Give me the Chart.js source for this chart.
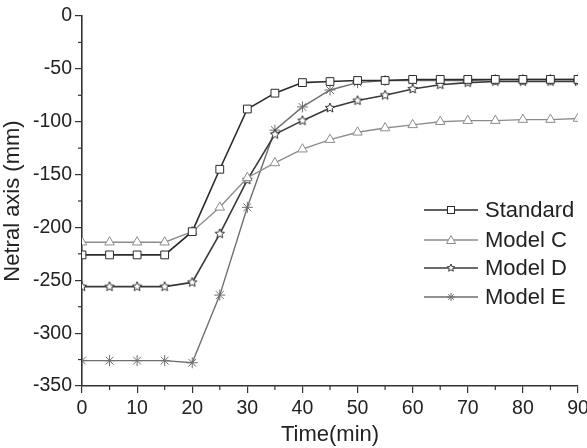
<!DOCTYPE html>
<html>
<head>
<meta charset="utf-8">
<script src="https://cdn.jsdelivr.net/npm/chart.js@4/dist/chart.umd.min.js"></script>
<style>
  html, body { margin: 0; padding: 0; background: #fff; }
  #wrap { width: 587px; height: 448px; }
</style>
</head>
<body>
<div id="wrap"><canvas id="neutralChart" width="587" height="448"></canvas></div>
<script>
const times = [0, 5, 10, 15, 20, 25, 30, 35, 40, 45, 50, 55, 60, 65, 70, 75, 80, 85, 90];
const standard = [-226, -226, -226, -226, -204, -145, -88, -73, -63, -62, -61, -61, -60, -60, -60, -60, -60, -60, -60];
const modelC = [-214, -214, -214, -214, -204, -181, -153, -139, -126, -117, -110, -106, -103, -100, -99, -99, -98, -98, -97];
const modelD = [-256, -256, -256, -256, -252, -206, -155, -112, -99, -87, -80, -75, -69, -65, -63, -62, -62, -62, -62];
const modelE = [-326, -326, -326, -326, -328, -264, -181, -108, -86, -70, -63, -61, -61, -61, -61, -60, -60, -60, -60];
const seriesNames = ["Standard", "Model C", "Model D", "Model E"];

const FONT = "'Liberation Sans', Arial, sans-serif";

// 5 point star marker, white filled
const makeStar = (size, color) => {
    const c = document.createElement("canvas");
    c.width = size; c.height = size;
    const g = c.getContext("2d");
    const cx = size / 2, cy = size / 2, ro = size / 2 - 1, ri = ro * 0.45;
    g.beginPath();
    for (let i = 0; i < 10; i++) {
        const r = i % 2 === 0 ? ro : ri;
        const a = -Math.PI / 2 + i * Math.PI / 5;
        const px = cx + r * Math.cos(a), py = cy + r * Math.sin(a);
        if (i === 0) g.moveTo(px, py); else g.lineTo(px, py);
    }
    g.closePath();
    g.fillStyle = "#fff";
    g.fill();
    g.lineWidth = 1;
    g.strokeStyle = color;
    g.stroke();
    return c;
};

const starBig = makeStar(12, "#333");

const styles = [
    { data: standard, color: "#2b2b2b", width: 1.6, point: "rect", radius: 5.5 },
    { data: modelC, color: "#8c8c8c", width: 1.4, point: "triangle", radius: 5.5 },
    { data: modelD, color: "#3a3a3a", width: 1.6, point: starBig, radius: 6 },
    { data: modelE, color: "#6e6e6e", width: 1.4, point: "star", radius: 5.5 },
];

// minor ticks + legend
const extras = {
    id: "extras",
    afterDraw(chart) {
        const ctx = chart.ctx;
        const xs = chart.scales.x, ys = chart.scales.y;
        const area = chart.chartArea;
        ctx.save();
        ctx.strokeStyle = "#333";
        ctx.lineWidth = 1.2;
        for (let v = 5; v < 90; v += 10) {
            const px = xs.getPixelForValue(v);
            ctx.beginPath();
            ctx.moveTo(px, area.bottom);
            ctx.lineTo(px, area.bottom + 4);
            ctx.stroke();
        }
        for (let v = -325; v < 0; v += 50) {
            const py = ys.getPixelForValue(v);
            ctx.beginPath();
            ctx.moveTo(area.left, py);
            ctx.lineTo(area.left - 4, py);
            ctx.stroke();
        }

        // legend
        const lx = 424;
        const rows = [210, 240, 268, 297];
        ctx.font = "22px " + FONT;
        ctx.textBaseline = "middle";
        styles.forEach((s, i) => {
            const y = rows[i];
            ctx.strokeStyle = s.color;
            ctx.lineWidth = s.width;
            ctx.beginPath();
            ctx.moveTo(lx, y);
            ctx.lineTo(lx + 54, y);
            ctx.stroke();
            const mx = lx + 27;
            ctx.fillStyle = "#fff";
            ctx.lineWidth = 1;
            if (s.point === "rect") {
                ctx.fillRect(mx - 3.5, y - 3.5, 7, 7);
                ctx.strokeRect(mx - 3.5, y - 3.5, 7, 7);
            } else if (s.point === "triangle") {
                ctx.beginPath();
                ctx.moveTo(mx, y - 4.5);
                ctx.lineTo(mx + 4.5, y + 3.5);
                ctx.lineTo(mx - 4.5, y + 3.5);
                ctx.closePath();
                ctx.fill(); ctx.stroke();
            } else if (s.point === "star") {
                ctx.beginPath();
                for (let k = 0; k < 4; k++) {
                    const a = k * Math.PI / 4;
                    ctx.moveTo(mx - 4 * Math.cos(a), y - 4 * Math.sin(a));
                    ctx.lineTo(mx + 4 * Math.cos(a), y + 4 * Math.sin(a));
                }
                ctx.stroke();
            } else {
                const st = makeStar(10, s.color);
                ctx.drawImage(st, mx - 5, y - 5);
            }
            ctx.fillStyle = "#222";
            ctx.fillText(seriesNames[i], lx + 61, y + 1);
        });
        ctx.restore();
    }
};

const ctx = document.getElementById("neutralChart");
new Chart(ctx, {
    type: "line",
    data: {
        labels: times,
        datasets: styles.map((s, i) => ({
            label: seriesNames[i],
            data: s.data,
            borderColor: s.color,
            borderWidth: s.width,
            pointStyle: s.point,
            pointRadius: s.radius,
            pointBackgroundColor: "#fff",
            pointBorderColor: s.color,
            pointBorderWidth: 1,
            tension: 0,
            fill: false,
        })),
    },
    options: {
        responsive: false,
        animation: false,
        devicePixelRatio: 1,
        layout: { padding: { top: 16, right: 9, left: 0, bottom: 0 } },
        plugins: {
            legend: { display: false },
            tooltip: { enabled: false },
        },
        scales: {
            x: {
                type: "linear",
                min: 0,
                max: 90,
                afterFit: (scale) => {
                    scale.height = 62;
                    scale.paddingRight = 0;
                    scale.paddingLeft = 0;
                },
                ticks: {
                    stepSize: 10,
                    color: "#222",
                    font: { family: FONT, size: 19.5 },
                    padding: 4,
                    maxRotation: 0,
                },
                grid: {
                    drawOnChartArea: false,
                    drawTicks: true,
                    tickLength: 7,
                    color: "#333",
                    lineWidth: 1.2,
                },
                border: { color: "#333", width: 1.6 },
                title: {
                    display: true,
                    text: "Time(min)",
                    color: "#222",
                    font: { family: FONT, size: 22 },
                    padding: { top: 0, bottom: 0 },
                },
            },
            y: {
                min: -350,
                max: 0,
                afterFit: (scale) => { scale.width = 82; },
                ticks: {
                    stepSize: 50,
                    color: "#222",
                    font: { family: FONT, size: 19.5 },
                    padding: 3,
                },
                grid: {
                    drawOnChartArea: false,
                    drawTicks: true,
                    tickLength: 7,
                    color: "#333",
                    lineWidth: 1.2,
                },
                border: { color: "#333", width: 1.6 },
                title: {
                    display: true,
                    text: "Netral axis (mm)",
                    color: "#222",
                    font: { family: FONT, size: 22 },
                    padding: { top: 0, bottom: 0 },
                },
            },
        },
    },
    plugins: [extras],
});
</script>
</body>
</html>
